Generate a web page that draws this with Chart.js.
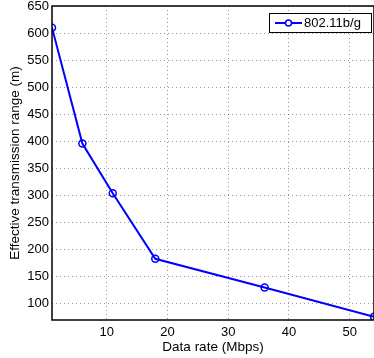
<!DOCTYPE html>
<html>
<head>
<meta charset="utf-8">
<script src="https://cdn.jsdelivr.net/npm/chart.js@4/dist/chart.umd.min.js"></script>
<style>
  html, body { margin: 0; padding: 0; background: #fff; }
  #wrap { width: 374px; height: 358px; }
</style>
</head>
<body>
<div id="wrap"><canvas id="rangeChart" width="374" height="358"></canvas></div>
<script>
// data rate (Mbps) vs effective range (m)
const rates = [1, 6, 11, 18, 36, 54];
const ranges = [610, 396, 304, 183, 130, 76];
const xTicks = [10, 20, 30, 40, 50];
const yTicks = [100, 150, 200, 250, 300, 350, 400, 450, 500, 550, 600, 650];
const seriesLabel = "802.11b/g";

const FONT = "'Liberation Sans', Arial, Helvetica, sans-serif";
Chart.defaults.font.family = FONT;
Chart.defaults.font.size = 13;
Chart.defaults.color = "#000";

// box around the axes, like a matlab figure
const frame = {
  id: "frame",
  afterDatasetsDraw(chart) {
    const { ctx, chartArea: a } = chart;
    ctx.save();
    ctx.strokeStyle = "#000";
    ctx.lineWidth = 1.5;
    ctx.strokeRect(a.left, a.top, a.right - a.left, a.bottom - a.top);
    ctx.restore();
  }
};

// boxed legend in the upper right corner
const boxLegend = {
  id: "boxLegend",
  afterDraw(chart) {
    const { ctx, chartArea: a } = chart;
    const ds = chart.data.datasets[0];
    const w = 102, h = 19;
    const x = a.right - w - 3, y = a.top + 7;
    ctx.save();
    ctx.fillStyle = "#fff";
    ctx.fillRect(x, y, w, h);
    ctx.strokeStyle = "#000";
    ctx.lineWidth = 1;
    ctx.strokeRect(x + 0.5, y + 0.5, w, h);
    const ly = y + h / 2 + 0.5;
    ctx.strokeStyle = ds.borderColor;
    ctx.lineWidth = 2;
    ctx.beginPath();
    ctx.moveTo(x + 6, ly);
    ctx.lineTo(x + 33, ly);
    ctx.stroke();
    ctx.beginPath();
    ctx.arc(x + 19.5, ly, 3, 0, Math.PI * 2);
    ctx.fillStyle = "#fff";
    ctx.fill();
    ctx.lineWidth = 1.5;
    ctx.stroke();
    ctx.fillStyle = "#000";
    ctx.font = "13px " + FONT;
    ctx.textBaseline = "middle";
    ctx.fillText(ds.label, x + 35, ly + 0.5);
    ctx.restore();
  }
};

const gridStyle = { color: "rgba(0,0,0,0.4)", lineWidth: 1, drawTicks: false };

new Chart(document.getElementById("rangeChart"), {
  type: "line",
  data: {
    datasets: [{
      label: seriesLabel,
      data: rates.map((r, i) => ({ x: r, y: ranges[i] })),
      borderColor: "#0000ff",
      borderWidth: 2,
      tension: 0,
      pointStyle: "circle",
      pointRadius: 3.5,
      pointBorderWidth: 1.5,
      pointBackgroundColor: "rgba(255,255,255,0)",
      pointBorderColor: "#0000ff",
      fill: false
    }]
  },
  options: {
    responsive: false,
    animation: false,
    layout: { autoPadding: false, padding: { top: 6, right: 0, left: 0, bottom: 0 } },
    plugins: { legend: { display: false }, tooltip: { enabled: false } },
    scales: {
      x: {
        type: "linear",
        min: 1,
        max: 54,
        afterBuildTicks: s => { s.ticks = xTicks.map(v => ({ value: v })); },
        afterFit: s => { s.height = 38; s.paddingLeft = 0; s.paddingRight = 0; },
        grid: gridStyle,
        border: { display: false, dash: [1, 3] },
        ticks: { padding: 5, maxRotation: 0 },
        title: { display: true, text: "Data rate (Mbps)", font: { size: 13.5 }, padding: { top: 0, bottom: 3 } }
      },
      y: {
        min: 70,
        max: 650,
        afterBuildTicks: s => { s.ticks = yTicks.map(v => ({ value: v })); },
        afterFit: s => { s.width = 52; s.paddingTop = 0; s.paddingBottom = 0; },
        grid: gridStyle,
        border: { display: false, dash: [1, 3] },
        ticks: { padding: 3 },
        title: { display: true, text: "Effective transmission range (m)", font: { size: 13.5 }, padding: { top: 7, bottom: 0 } }
      }
    }
  },
  plugins: [frame, boxLegend]
});
</script>
</body>
</html>
